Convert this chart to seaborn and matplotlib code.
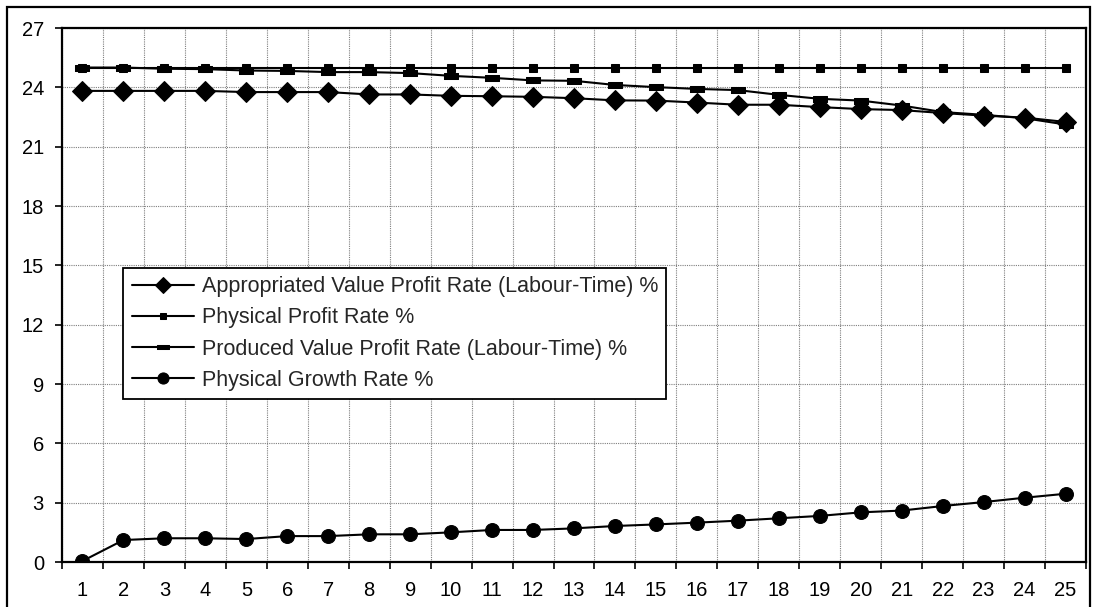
import matplotlib
matplotlib.use("Agg")
import matplotlib.pyplot as plt
from matplotlib.patches import Rectangle
from matplotlib.ticker import FixedLocator, MultipleLocator
import numpy as np
import pandas as pd
import seaborn as sns

periods = list(range(1, 26))

appropriated_value_rate = [23.82, 23.82, 23.82, 23.82, 23.76, 23.76, 23.76, 23.64, 23.64, 23.57,
                           23.55, 23.52, 23.45, 23.34, 23.33, 23.23, 23.12, 23.12, 23.00, 22.90,
                           22.85, 22.70, 22.57, 22.47, 22.25]
physical_profit_rate = [25.0] * 25
produced_value_rate = [25.0, 25.0, 24.94, 24.92, 24.85, 24.83, 24.77, 24.77, 24.72, 24.58,
                       24.48, 24.35, 24.33, 24.12, 24.01, 23.92, 23.86, 23.62, 23.42, 23.33,
                       23.08, 22.75, 22.61, 22.44, 22.12]
physical_growth_rate = [0.05, 1.11, 1.20, 1.20, 1.16, 1.31, 1.31, 1.40, 1.40, 1.50,
                        1.62, 1.62, 1.70, 1.82, 1.90, 1.99, 2.09, 2.21, 2.33, 2.51,
                        2.60, 2.83, 3.03, 3.25, 3.45]

series_names = [
    "Appropriated Value Profit Rate (Labour-Time) %",
    "Physical Profit Rate %",
    "Produced Value Profit Rate (Labour-Time) %",
    "Physical Growth Rate %",
]
series_values = [appropriated_value_rate, physical_profit_rate,
                 produced_value_rate, physical_growth_rate]
y_ticks = [0, 3, 6, 9, 12, 15, 18, 21, 24, 27]

sns.set_theme(style="white")
plt.rcParams["font.family"] = ["Liberation Sans", "DejaVu Sans"]

df = pd.DataFrame({
    "period": np.tile(periods, len(series_names)),
    "value": np.concatenate(series_values),
    "series": np.repeat(series_names, len(periods)),
})

# wide, flat bar used as the marker for the produced-value series
flat_bar = [(-1, -0.4), (1, -0.4), (1, 0.4), (-1, 0.4), (-1, -0.4)]
marker_map = {series_names[0]: "D", series_names[1]: "s",
              series_names[2]: flat_bar, series_names[3]: "o"}
size_map = {series_names[0]: 10, series_names[1]: 5.5,
            series_names[2]: 10, series_names[3]: 10}

fig = plt.figure(figsize=(10.97, 6.07), dpi=100)
ax = fig.add_axes([62 / 1097, 1 - 562 / 607, (1086 - 62) / 1097, (562 - 28) / 607])

for name in series_names:
    sub = df[df["series"] == name]
    sns.lineplot(data=sub, x="period", y="value", ax=ax, color="black",
                 linewidth=1.5, marker=marker_map[name], markersize=size_map[name],
                 markeredgecolor="black", markerfacecolor="black", label=name)

ax.set_xlim(0.5, 25.5)
ax.set_ylim(0, 27)
ax.xaxis.set_major_locator(FixedLocator(periods))
ax.set_xticklabels([str(p) for p in periods])
ax.xaxis.set_minor_locator(MultipleLocator(1, offset=0.5))
ax.yaxis.set_major_locator(FixedLocator(y_ticks))
ax.set_xlabel("")
ax.set_ylabel("")

ax.tick_params(axis="x", which="major", length=0, pad=14, labelsize=14.5, colors="black")
ax.tick_params(axis="x", which="minor", length=5, width=1.2, direction="out",
               bottom=True, color="black")
ax.tick_params(axis="y", which="major", length=5, width=1.2, direction="out",
               left=True, labelsize=14.5, colors="black", pad=8)

ax.grid(False)
ax.grid(True, axis="x", which="minor", color="#7f7f7f", linestyle=(0, (1, 1)), linewidth=0.8)
ax.grid(True, axis="y", which="major", color="#7f7f7f", linestyle=(0, (1, 1)), linewidth=0.8)
ax.set_axisbelow(True)

for side in ["left", "bottom", "top", "right"]:
    ax.spines[side].set_visible(True)
    ax.spines[side].set_color("black")
    ax.spines[side].set_linewidth(1.6)

leg = ax.legend(loc="upper left", bbox_to_anchor=(0.0595, 0.551), borderaxespad=0,
                frameon=True, fancybox=False, shadow=False, fontsize=15.5,
                handlelength=2.9, handletextpad=0.35, labelspacing=0.47,
                borderpad=0.4, markerscale=0.8)
leg.get_frame().set_edgecolor("black")
leg.get_frame().set_linewidth(1.3)
leg.get_frame().set_facecolor("white")
leg.get_frame().set_alpha(1)

# outer chart-area frame
fig.patches.append(Rectangle((7 / 1097, -0.05), (1090 - 7) / 1097, 1 - 7 / 607 + 0.05,
                             transform=fig.transFigure, fill=False,
                             edgecolor="black", linewidth=1.6, clip_on=False))

fig.savefig("out.png", dpi=100, facecolor="white")
